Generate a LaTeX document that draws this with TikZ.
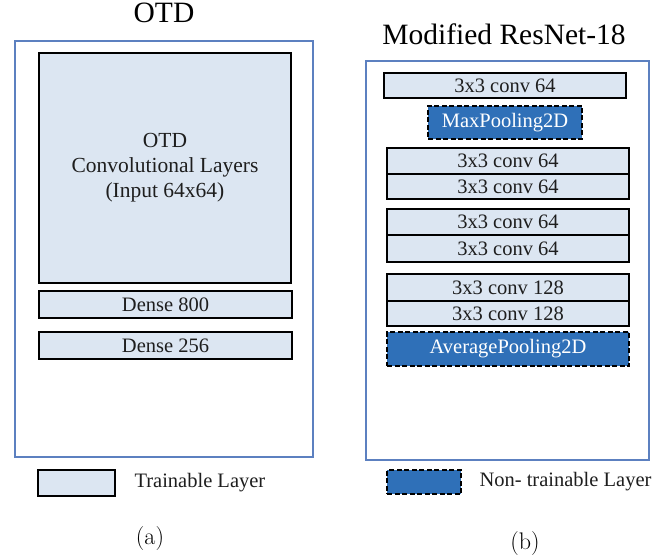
\documentclass[tikz,border=0pt]{standalone}
\usepackage{fontspec}
\newfontfamily\tnr{Liberation Serif}
\definecolor{layerfill}{HTML}{DCE6F2}
\definecolor{poolfill}{HTML}{2F70B8}
\definecolor{framecol}{RGB}{92,128,192}
\definecolor{inkcol}{HTML}{1E1E1E}
\begin{document}
\begin{tikzpicture}[x=1pt,y=-1pt,
  frame/.style={draw=framecol,line width=1.4pt,fill=white},
  layer/.style={draw=black,line width=2.2pt,fill=layerfill,inner sep=0pt,
    text=inkcol,font=\tnr\fontsize{20.5}{24}\selectfont},
  pool/.style={draw=black,line width=2.2pt,dash pattern=on 5pt off 2.5pt,
    fill=poolfill,inner sep=0pt,text=white,font=\tnr\fontsize{20.5}{24}\selectfont},
  title/.style={anchor=base,text=black,font=\tnr\fontsize{29.5}{32}\selectfont},
  legtext/.style={anchor=west,text=inkcol,font=\tnr\fontsize{20.5}{24}\selectfont},
  caption/.style={anchor=base,text=black,font=\fontsize{24}{28}\selectfont}]
\useasboundingbox[fill=white] (0,0) rectangle (671,556);

% ---------- (a) OTD ----------
\node[title] (ta) at (164,23) {OTD};
\draw[frame] (15,41) rectangle (313,457);
\node[layer,minimum width=252pt,minimum height=230pt,align=center,
      font=\tnr\fontsize{21.5}{25}\selectfont] (conv) at (165,168)
  {OTD\\Convolutional Layers\\(Input 64x64)};
\node[layer,minimum width=253pt,minimum height=27pt] (d800) at (165.5,304.5) {Dense 800};
\node[layer,minimum width=253pt,minimum height=27pt] (d256) at (165.5,345.5) {Dense 256};
\node[layer,minimum width=77pt,minimum height=26pt] (lega) at (76.5,483) {};
\node[legtext] (lta) at (131,483) {Trainable Layer};
\node[caption] (ca) at (150,544) {(a)};

% ---------- (b) Modified ResNet-18 ----------
\node[title] (tb) at (504,45) {Modified ResNet-18};
\draw[frame] (366,61) rectangle (649,460);
\node[layer,minimum width=242pt,minimum height=25pt] (c1) at (505,85.5) {3x3 conv 64};
\node[pool,minimum width=154pt,minimum height=33pt] (mp) at (505,122.5) {MaxPooling2D};
\node[layer,minimum width=242pt,minimum height=26pt] (b1a) at (508,161) {3x3 conv 64};
\node[layer,minimum width=242pt,minimum height=25pt] (b1b) at (508,186.5) {3x3 conv 64};
\node[layer,minimum width=242pt,minimum height=26pt] (b2a) at (508,222) {3x3 conv 64};
\node[layer,minimum width=242pt,minimum height=27pt] (b2b) at (508,248.5) {3x3 conv 64};
\node[layer,minimum width=242pt,minimum height=27pt] (b3a) at (508,287.5) {3x3 conv 128};
\node[layer,minimum width=242pt,minimum height=25pt] (b3b) at (508,313.5) {3x3 conv 128};
\node[pool,minimum width=242pt,minimum height=34pt] (ap) at (508,349) {AveragePooling2D};
\node[pool,minimum width=74pt,minimum height=24pt] (legb) at (424,482) {};
\node[legtext] (ltb) at (476,482) {Non- trainable Layer};
\node[caption] (cb) at (525,549) {(b)};
\end{tikzpicture}
\end{document}
